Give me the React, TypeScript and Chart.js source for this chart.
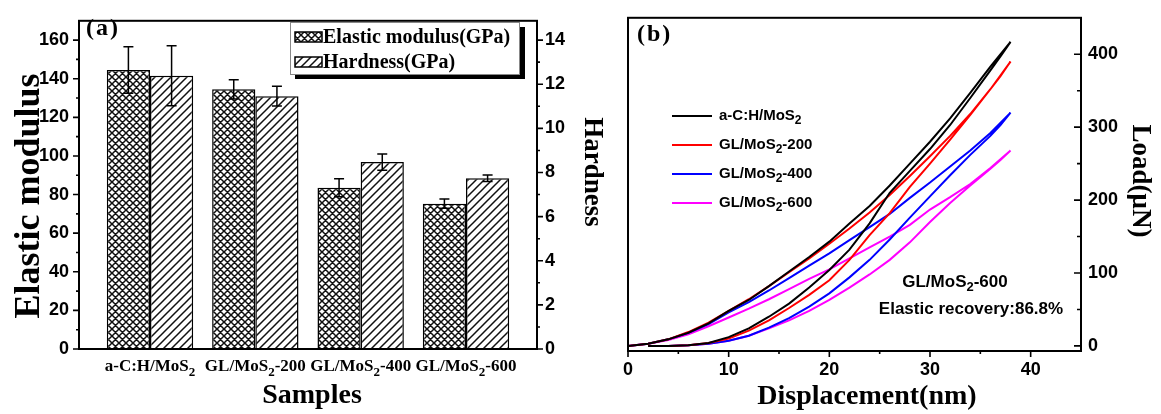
import React, { useEffect, useRef } from 'react';
import { Chart, registerables } from 'chart.js';

Chart.register(...registerables);

// ---------------- Panel (a) data ----------------
const sampleLabels = ['a-C:H/MoS_2', 'GL/MoS_2-200', 'GL/MoS_2-400', 'GL/MoS_2-600'];
const sampleIndex = [0, 1, 2, 3];
const elasticModulus = [144.5, 134.5, 83.5, 75.3];
const elasticModulusErr = [12, 5, 4.7, 2.4];
const hardness = [12.38, 11.46, 8.47, 7.74];
const hardnessErr = [1.36, 0.45, 0.37, 0.15];
const modulusTicks = [0, 20, 40, 60, 80, 100, 120, 140, 160];
const modulusMinor = [10, 30, 50, 70, 90, 110, 130, 150];
const hardnessTicks = [0, 2, 4, 6, 8, 10, 12, 14];
const hardnessMinor = [1, 3, 5, 7, 9, 11, 13];
const legendA = ['Elastic modulus(GPa)', 'Hardness(GPa)'];

// ---------------- Panel (b) data ----------------
const seriesNames = ['a-C:H/MoS_2', 'GL/MoS_2-200', 'GL/MoS_2-400', 'GL/MoS_2-600'];
const seriesColors = ['#000000', '#ff0000', '#0000ff', '#ff00ff'];
const loadingDisp = [0, 2, 4, 6, 8, 10, 12, 14, 16, 18, 20, 22, 24, 26, 28, 30, 32, 34, 36, 38];
const loadingBlack = [0, 3, 9, 18, 31, 48, 63, 82, 102, 122, 143, 168, 192, 220, 250, 280, 312, 347, 383, 417];
const loadingRed = [0, 3, 9, 19, 32, 48, 64, 82, 101, 120, 140, 161, 183, 207, 233, 260, 288, 318, 352, 390];
const loadingBlue = [0, 3, 9, 18, 30, 46, 60, 76, 93, 110, 127, 145, 163, 181, 203, 224, 246, 268, 292, 320];
const loadingMagenta = [0, 3, 8, 16, 27, 39, 51, 64, 78, 92, 105, 120, 135, 150, 166, 187, 204, 222, 244, 268];
const unloadingDisp = [38, 37, 36, 34, 32, 30, 28, 26, 24, 22, 20, 18, 16, 14, 12, 10, 8, 6, 4, 2];
const unloadingBlack = [417, 397, 378, 340, 303, 270, 240, 210, 168, 132, 104, 80, 58, 40, 24, 12, 4, 1, 0, 0];
const unloadingRed = [390, 370, 352, 317, 283, 250, 218, 182, 152, 118, 90, 70, 52, 35, 21, 10, 4, 1, 0, 0];
const unloadingBlue = [320, 303, 288, 262, 234, 205, 176, 146, 118, 94, 72, 54, 38, 25, 14, 7, 3, 1, 0, 0];
const unloadingMagenta = [268, 255, 243, 220, 196, 170, 142, 118, 98, 80, 63, 48, 35, 24, 14, 7, 3, 1, 0, 0];
const dispTicks = [0, 10, 20, 30, 40];
const dispMinor = [5, 15, 25, 35];
const loadTicks = [0, 100, 200, 300, 400];
const loadMinor = [50, 150, 250, 350];

const SANS = '"Liberation Sans", Arial, sans-serif';
const SERIF = '"Liberation Serif", "Times New Roman", serif';

function makePattern(cross: boolean): CanvasPattern {
  const s = cross ? 7 : 8;
  const c = document.createElement('canvas');
  c.width = s;
  c.height = s;
  const g = c.getContext('2d')!;
  g.fillStyle = '#ffffff';
  g.fillRect(0, 0, s, s);
  g.strokeStyle = '#111111';
  g.lineWidth = cross ? 1.5 : 1.5;
  g.beginPath();
  g.moveTo(-1, s + 1); g.lineTo(s + 1, -1);
  g.moveTo(-1, 1); g.lineTo(1, -1);
  g.moveTo(s - 1, s + 1); g.lineTo(s + 1, s - 1);
  if (cross) {
    g.moveTo(-1, -1); g.lineTo(s + 1, s + 1);
    g.moveTo(s - 1, -1); g.lineTo(s + 1, 1);
    g.moveTo(-1, s - 1); g.lineTo(1, s + 1);
  }
  g.stroke();
  return g.createPattern(c, 'repeat')!;
}

function drawRich(ctx: CanvasRenderingContext2D, text: string, x: number, y: number, size: number, family: string, align: 'left' | 'center') {
  const parts = text.split(/_(\d)/);
  const sub = Math.round(size * 0.78);
  const widths = parts.map((p, i) => {
    ctx.font = `bold ${i % 2 ? sub : size}px ${family}`;
    return ctx.measureText(p).width;
  });
  const total = widths.reduce((a, b) => a + b, 0);
  let cx = align === 'center' ? x - total / 2 : x;
  ctx.textAlign = 'left';
  ctx.textBaseline = 'middle';
  parts.forEach((p, i) => {
    ctx.font = `bold ${i % 2 ? sub : size}px ${family}`;
    ctx.fillText(p, cx, y + (i % 2 ? size * 0.32 : 0));
    cx += widths[i];
  });
}

function drawRotated(ctx: CanvasRenderingContext2D, text: string, x: number, y: number, angle: number, font: string) {
  ctx.save();
  ctx.translate(x, y);
  ctx.rotate(angle);
  ctx.font = font;
  ctx.textAlign = 'center';
  ctx.textBaseline = 'middle';
  ctx.fillText(text, 0, 0);
  ctx.restore();
}

function vTicks(ctx: CanvasRenderingContext2D, scale: any, x: number, values: number[], len: number) {
  values.forEach((v) => {
    const y = scale.getPixelForValue(v);
    ctx.moveTo(x, y);
    ctx.lineTo(x + len, y);
  });
}

function hTicks(ctx: CanvasRenderingContext2D, scale: any, y: number, values: number[], len: number) {
  values.forEach((v) => {
    const x = scale.getPixelForValue(v);
    ctx.moveTo(x, y);
    ctx.lineTo(x, y + len);
  });
}

const tickFont = { family: SANS, size: 18, weight: 'bold' as const };

export default function App() {
  const refA = useRef<HTMLCanvasElement>(null);
  const refB = useRef<HTMLCanvasElement>(null);

  useEffect(() => {
    document.body.style.margin = '0';
    const cross = makePattern(true);
    const diag = makePattern(false);
    const errs = [elasticModulusErr, hardnessErr];

    const pluginA = {
      id: 'panelA',
      afterDatasetsDraw(chart: any) {
        const ctx = chart.ctx as CanvasRenderingContext2D;
        ctx.save();
        ctx.strokeStyle = '#000';
        ctx.lineWidth = 1.5;
        chart.data.datasets.forEach((ds: any, di: number) => {
          const meta = chart.getDatasetMeta(di);
          const ys = chart.scales[ds.yAxisID];
          meta.data.forEach((bar: any, i: number) => {
            const v = ds.data[i].y;
            const e = errs[di][i];
            const yt = ys.getPixelForValue(v + e);
            const yb = ys.getPixelForValue(v - e);
            ctx.beginPath();
            ctx.moveTo(bar.x, yt); ctx.lineTo(bar.x, yb);
            ctx.moveTo(bar.x - 5, yt); ctx.lineTo(bar.x + 5, yt);
            ctx.moveTo(bar.x - 5, yb); ctx.lineTo(bar.x + 5, yb);
            ctx.stroke();
          });
        });
        ctx.restore();
      },
      afterDraw(chart: any) {
        const ctx = chart.ctx as CanvasRenderingContext2D;
        const ca = chart.chartArea;
        const { x, y, y2 } = chart.scales;
        ctx.save();
        ctx.strokeStyle = '#000';
        ctx.fillStyle = '#000';
        ctx.lineWidth = 2;
        ctx.strokeRect(ca.left, ca.top, ca.right - ca.left, ca.bottom - ca.top);
        ctx.lineWidth = 1.6;
        ctx.beginPath();
        vTicks(ctx, y, ca.left, modulusTicks, -6);
        vTicks(ctx, y, ca.left, modulusMinor, -3);
        vTicks(ctx, y2, ca.right, hardnessTicks, 6);
        vTicks(ctx, y2, ca.right, hardnessMinor, 3);
        ctx.stroke();

        // category labels
        sampleIndex.forEach((i) => {
          drawRich(ctx, sampleLabels[i], x.getPixelForValue(i), 367, 17, SERIF, 'center');
        });

        // titles
        drawRotated(ctx, 'Elastic modulus', 30, 196, -Math.PI / 2, `bold 36px ${SERIF}`);
        drawRotated(ctx, 'Hardness', 592, 172, Math.PI / 2, `bold 27px ${SERIF}`);
        ctx.font = `bold 28px ${SERIF}`;
        ctx.textAlign = 'center';
        ctx.textBaseline = 'middle';
        ctx.fillText('Samples', 312, 396);

        // panel label
        ctx.font = `bold 24px ${SERIF}`;
        (ctx as any).letterSpacing = '2px';
        ctx.textAlign = 'left';
        ctx.fillText('(a)', 86, 29);
        (ctx as any).letterSpacing = '0px';

        // legend box with shadow
        ctx.fillStyle = '#000';
        ctx.fillRect(295, 27, 230, 52);
        ctx.fillStyle = '#fff';
        ctx.fillRect(290, 22, 229, 52);
        ctx.strokeStyle = '#888';
        ctx.lineWidth = 1;
        ctx.strokeRect(290.5, 22.5, 229, 52);
        const pats = [cross, diag];
        [37, 62].forEach((cy, k) => {
          ctx.fillStyle = pats[k];
          ctx.fillRect(295, cy - 5, 27, 10);
          ctx.strokeStyle = '#000';
          ctx.lineWidth = 1.5;
          ctx.strokeRect(295, cy - 5, 27, 10);
          ctx.fillStyle = '#000';
          ctx.font = `bold 20px ${SERIF}`;
          ctx.textAlign = 'left';
          ctx.textBaseline = 'middle';
          ctx.fillText(legendA[k], 323, cy + 1);
        });
        ctx.restore();
      },
    };

    const chartA = new Chart(refA.current!, {
      type: 'bar',
      data: {
        datasets: [
          {
            label: legendA[0],
            data: sampleIndex.map((i) => ({ x: i, y: elasticModulus[i] })),
            yAxisID: 'y',
            backgroundColor: cross,
            borderColor: '#000',
            borderWidth: 1.5,
            barPercentage: 1,
            categoryPercentage: 0.82,
          },
          {
            label: legendA[1],
            data: sampleIndex.map((i) => ({ x: i, y: hardness[i] })),
            yAxisID: 'y2',
            backgroundColor: diag,
            borderColor: '#000',
            borderWidth: 1.5,
            barPercentage: 1,
            categoryPercentage: 0.82,
          },
        ],
      } as any,
      options: {
        animation: false,
        responsive: false,
        maintainAspectRatio: false,
        layout: { padding: { top: 11, left: 0, right: 0, bottom: 0 } },
        plugins: { legend: { display: false }, tooltip: { enabled: false } },
        scales: {
          x: {
            type: 'linear',
            offset: false,
            min: -0.674,
            max: 3.674,
            grid: { display: false, drawTicks: false, offset: false },
            border: { display: false },
            ticks: { display: false },
            afterBuildTicks: (s: any) => { s.ticks = sampleIndex.map((v) => ({ value: v })); },
            afterFit: (s: any) => { s.height = 65; },
          },
          y: {
            position: 'left',
            min: 0,
            max: 170,
            grid: { display: false, drawTicks: false },
            border: { display: false },
            ticks: { color: '#000', font: tickFont, padding: 10 },
            afterBuildTicks: (s: any) => { s.ticks = modulusTicks.map((v) => ({ value: v })); },
            afterFit: (s: any) => { s.width = 79; },
          },
          y2: {
            position: 'right',
            min: 0,
            max: 14.875,
            grid: { display: false, drawTicks: false },
            border: { display: false },
            ticks: { color: '#000', font: tickFont, padding: 8 },
            afterBuildTicks: (s: any) => { s.ticks = hardnessTicks.map((v) => ({ value: v })); },
            afterFit: (s: any) => { s.width = 78; },
          },
        },
      } as any,
      plugins: [pluginA],
    });

    const pluginB = {
      id: 'panelB',
      afterDraw(chart: any) {
        const ctx = chart.ctx as CanvasRenderingContext2D;
        const ca = chart.chartArea;
        const { x, y } = chart.scales;
        ctx.save();
        ctx.strokeStyle = '#000';
        ctx.fillStyle = '#000';
        ctx.lineWidth = 2;
        ctx.strokeRect(ca.left, ca.top, ca.right - ca.left, ca.bottom - ca.top);
        ctx.lineWidth = 1.6;
        ctx.beginPath();
        vTicks(ctx, y, ca.right, loadTicks, -7);
        vTicks(ctx, y, ca.right, loadMinor, -4);
        hTicks(ctx, x, ca.bottom, dispTicks, 6);
        hTicks(ctx, x, ca.bottom, dispMinor, 3);
        ctx.stroke();

        // legend
        seriesNames.forEach((name, i) => {
          const cy = 116 + i * 29;
          ctx.strokeStyle = seriesColors[i];
          ctx.lineWidth = 2;
          ctx.beginPath();
          ctx.moveTo(57, cy);
          ctx.lineTo(97, cy);
          ctx.stroke();
          ctx.fillStyle = '#000';
          drawRich(ctx, name, 104, cy, 15, SANS, 'left');
        });

        // annotation
        ctx.fillStyle = '#000';
        drawRich(ctx, 'GL/MoS_2-600', 340, 282, 17, SANS, 'center');
        ctx.font = `bold 17px ${SANS}`;
        ctx.textAlign = 'center';
        ctx.textBaseline = 'middle';
        ctx.fillText('Elastic recovery:86.8%', 356, 309);

        // titles
        ctx.font = `bold 28px ${SERIF}`;
        ctx.fillText('Displacement(nm)', 252, 397);
        drawRotated(ctx, 'Load(\u03bcN)', 525, 181, Math.PI / 2, `bold 27px ${SERIF}`);

        ctx.font = `bold 24px ${SERIF}`;
        (ctx as any).letterSpacing = '2px';
        ctx.textAlign = 'left';
        ctx.fillText('(b)', 22, 35);
        (ctx as any).letterSpacing = '0px';
        ctx.restore();
      },
    };

    const curves = [
      { load: loadingBlack, unload: unloadingBlack },
      { load: loadingRed, unload: unloadingRed },
      { load: loadingBlue, unload: unloadingBlue },
      { load: loadingMagenta, unload: unloadingMagenta },
    ];

    const chartB = new Chart(refB.current!, {
      type: 'scatter',
      data: {
        datasets: curves.map((c, i) => ({
          label: seriesNames[i],
          data: [
            ...loadingDisp.map((d, j) => ({ x: d, y: c.load[j] })),
            ...unloadingDisp.map((d, j) => ({ x: d, y: c.unload[j] })),
          ],
          showLine: true,
          borderColor: seriesColors[i],
          backgroundColor: seriesColors[i],
          borderWidth: 2,
          pointRadius: 0,
          tension: 0,
          fill: false,
        })),
      } as any,
      options: {
        animation: false,
        responsive: false,
        maintainAspectRatio: false,
        layout: { padding: { top: 11, left: 12, right: 0, bottom: 0 } },
        plugins: { legend: { display: false }, tooltip: { enabled: false } },
        scales: {
          x: {
            type: 'linear',
            min: 0,
            max: 45,
            grid: { display: false, drawTicks: false },
            border: { display: false },
            ticks: { color: '#000', font: tickFont, padding: 8 },
            afterBuildTicks: (s: any) => { s.ticks = dispTicks.map((v) => ({ value: v })); },
            afterFit: (s: any) => { s.height = 63; },
          },
          y: {
            type: 'linear',
            position: 'right',
            min: -7,
            max: 450,
            grid: { display: false, drawTicks: false },
            border: { display: false },
            ticks: { color: '#000', font: tickFont, padding: 7 },
            afterBuildTicks: (s: any) => { s.ticks = loadTicks.map((v) => ({ value: v })); },
            afterFit: (s: any) => { s.width = 80; },
          },
        },
      } as any,
      plugins: [pluginB],
    });

    return () => {
      chartA.destroy();
      chartB.destroy();
    };
  }, []);

  return (
    <div style={{ position: 'relative', width: 1161, height: 414, background: '#fff' }}>
      <canvas ref={refA} width={615} height={414} style={{ position: 'absolute', left: 0, top: 0 }} />
      <canvas ref={refB} width={546} height={414} style={{ position: 'absolute', left: 615, top: 0 }} />
    </div>
  );
}
